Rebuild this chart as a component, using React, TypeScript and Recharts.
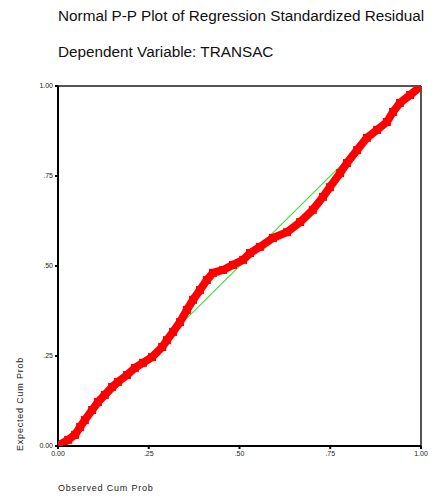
import React from 'react';
import {
  ComposedChart,
  Line,
  XAxis,
  YAxis,
  ReferenceLine } from
'recharts';

const observed = [
0.003, 0.028, 0.047, 0.061, 0.074, 0.094, 0.110, 0.129, 0.149, 0.165,
0.190, 0.212, 0.234, 0.259, 0.287, 0.300, 0.317, 0.336, 0.355, 0.372,
0.391, 0.410, 0.427, 0.455, 0.482, 0.510, 0.529, 0.556, 0.592, 0.631,
0.667, 0.702, 0.730, 0.749, 0.777, 0.796, 0.824, 0.851, 0.879, 0.906,
0.923, 0.942, 0.970, 0.997];
const expected = [
0.003, 0.017, 0.031, 0.053, 0.072, 0.100, 0.122, 0.142, 0.164, 0.178,
0.197, 0.217, 0.231, 0.247, 0.275, 0.294, 0.317, 0.344, 0.378, 0.406,
0.433, 0.461, 0.481, 0.489, 0.503, 0.517, 0.536, 0.553, 0.578, 0.594,
0.622, 0.656, 0.692, 0.719, 0.758, 0.786, 0.822, 0.856, 0.878, 0.900,
0.928, 0.953, 0.975, 0.997];
const tickValues = [0, 0.25, 0.5, 0.75, 1];
const tickLabels = ['0.00', '.25', '.50', '.75', '1.00'];
const diagonal = [{ x: 0, y: 0 }, { x: 1, y: 1 }];

const points = observed.map((x, i) => ({ x, y: expected[i] }));
const fmt = (v: number) => tickLabels[tickValues.indexOf(v)] ?? String(v);

const SquareDot = (props: any) => {
  const { cx, cy } = props;
  if (cx == null || cy == null) return null;
  return <rect x={cx - 4} y={cy - 4} width={8} height={8} fill="#ff0000" />;
};

export default function App() {
  const font = 'Arial, "Liberation Sans", sans-serif';
  return (
    <div style={{ position: 'absolute', left: 0, top: 0, width: 438, height: 497, background: '#fff', fontFamily: font }}>
      <div style={{ position: 'absolute', left: 58, top: 7, fontSize: 15.3, color: '#111', whiteSpace: 'nowrap' }}>
        Normal P-P Plot of Regression Standardized Residual
      </div>
      <div style={{ position: 'absolute', left: 58, top: 43, fontSize: 15.3, color: '#111', whiteSpace: 'nowrap' }}>
        Dependent Variable: TRANSAC
      </div>
      <ComposedChart
        width={438}
        height={497}
        margin={{ top: 86, right: 17, bottom: 31, left: 0 }}>

        <XAxis
          type="number"
          dataKey="x"
          domain={[0, 1]}
          ticks={tickValues}
          tickFormatter={fmt}
          height={20}
          axisLine={{ stroke: '#000', strokeWidth: 2 }}
          tickLine={{ stroke: '#000', strokeWidth: 2 }}
          tickSize={3}
          tick={{ fontSize: 7, fill: '#222', fontFamily: font }}
          allowDataOverflow />

        <YAxis
          type="number"
          dataKey="y"
          domain={[0, 1]}
          ticks={tickValues}
          tickFormatter={fmt}
          width={58}
          axisLine={{ stroke: '#000', strokeWidth: 2 }}
          tickLine={{ stroke: '#000', strokeWidth: 2 }}
          tickSize={3}
          tick={{ fontSize: 7, fill: '#222', fontFamily: font }}
          allowDataOverflow />

        <ReferenceLine y={1} stroke="#555" strokeWidth={2} />
        <ReferenceLine x={1} stroke="#555" strokeWidth={2} />
        <Line
          data={diagonal}
          dataKey="y"
          stroke="#3de03d"
          strokeWidth={1.2}
          dot={false}
          isAnimationActive={false} />

        <Line
          data={points}
          dataKey="y"
          stroke="#ff0000"
          strokeWidth={8}
          strokeLinejoin="round"
          dot={<SquareDot />}
          isAnimationActive={false} />

      </ComposedChart>
      <div
        style={{
          position: 'absolute',
          left: 58,
          top: 483,
          fontSize: 9,
          letterSpacing: 0.8,
          color: '#222',
          whiteSpace: 'nowrap'
        }}>
        Observed Cum Prob
      </div>
      <div
        style={{
          position: 'absolute',
          left: 15,
          top: 451,
          fontSize: 9,
          letterSpacing: 0.8,
          color: '#222',
          whiteSpace: 'nowrap',
          transform: 'rotate(-90deg)',
          transformOrigin: '0 0'
        }}>
        Expected Cum Prob
      </div>
    </div>);

}
